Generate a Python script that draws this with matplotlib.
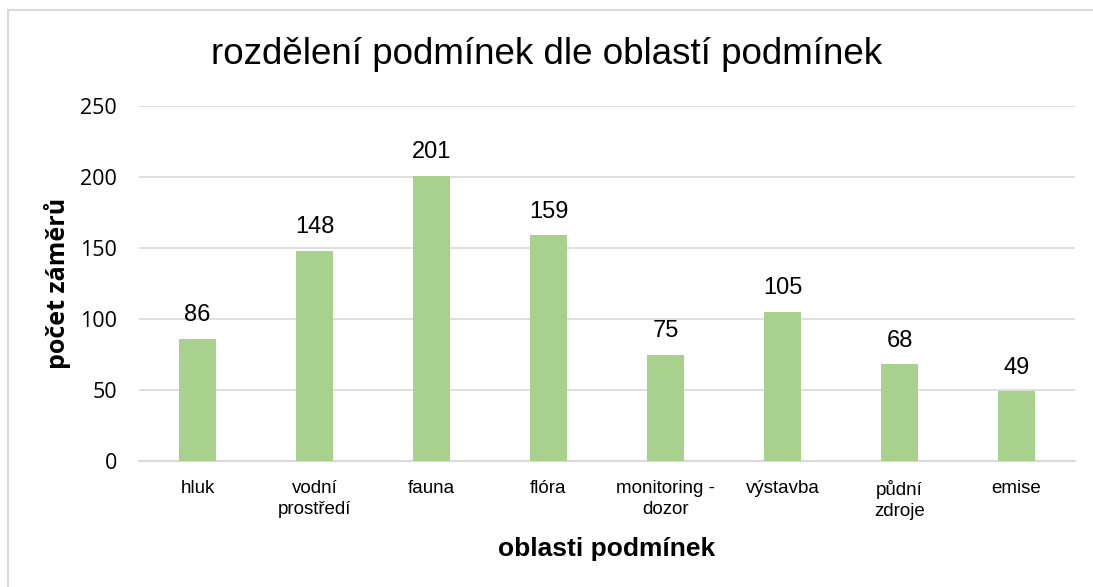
import matplotlib
matplotlib.use("Agg")
import matplotlib.pyplot as plt
from matplotlib.patches import Rectangle

categories = ["hluk", "vodní\nprostředí", "fauna", "flóra", "monitoring -\ndozor",
              "výstavba", "půdní\nzdroje", "emise"]
counts = [86, 148, 201, 159, 75, 105, 68, 49]
yticks = [0, 50, 100, 150, 200, 250]

BAR = "#A9D18E"
GRID = "#D9D9D9"
NARROW = ["Liberation Sans Narrow", "Liberation Sans", "DejaVu Sans"]
TICKFONT = ["Open Sans", "DejaVu Sans"]

W, H = 1093, 587
fig = plt.figure(figsize=(W / 100, H / 100), dpi=100, facecolor="white")

# outer chart border
fig.patches.append(Rectangle((8 / W, -0.05), 1.2, (H - 10) / H + 0.05,
                             transform=fig.transFigure, fill=False,
                             edgecolor="#D9D9D9", linewidth=1.5))

ax = fig.add_axes([139 / W, (H - 461) / H, (1075 - 139) / W, (461 - 106) / H])
x = range(len(categories))
ax.bar(x, counts, width=0.315, color=BAR, zorder=3)
for xi, v in zip(x, counts):
    ax.annotate(str(v), (xi, v), xytext=(0, 9), textcoords="offset points",
                ha="center", va="bottom", fontsize=17, family=NARROW[1:])

ax.set_xlim(-0.5, len(categories) - 0.5)
ax.set_ylim(0, 250)
ax.set_yticks(yticks)
ax.set_yticklabels([str(t) for t in yticks], fontsize=15.5, family=TICKFONT)
ax.set_xticks(list(x))
ax.set_xticklabels(categories, fontsize=13.5, family=NARROW, linespacing=1.3)
ax.tick_params(axis="both", length=0, colors="black")
ax.tick_params(axis="y", pad=16)
ax.tick_params(axis="x", pad=14)
ax.grid(axis="y", color=GRID, linewidth=1.2, zorder=0)
for s in ["top", "right", "left"]:
    ax.spines[s].set_visible(False)
ax.spines["bottom"].set_color(GRID)
ax.spines["bottom"].set_linewidth(1.5)

ax.set_ylabel("počet záměrů", fontsize=18, fontweight="bold",
              family=TICKFONT, labelpad=6)
ax.set_xlabel("oblasti podmínek", fontsize=19, fontweight="bold",
              family=NARROW, labelpad=12)
fig.text(0.5, 1 - 55 / H, "rozdělení podmínek dle oblastí podmínek",
         ha="center", va="center", fontsize=26.5, family=NARROW)

fig.savefig("out.png", dpi=100, facecolor="white")
